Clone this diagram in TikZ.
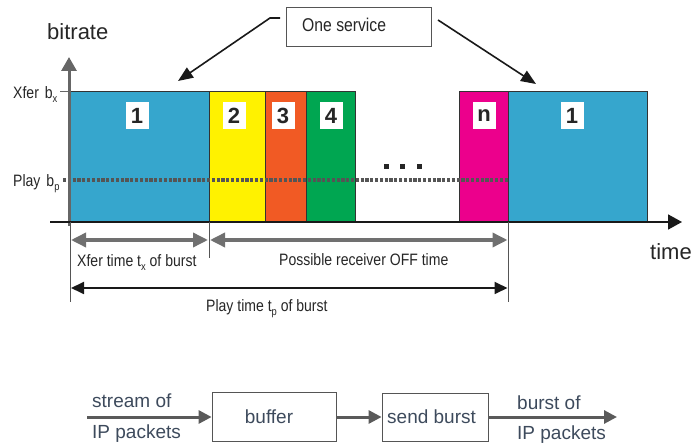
\documentclass[tikz,border=0pt]{standalone}
\usepackage{fontspec}
\setmainfont{Liberation Sans}
\newfontfamily\narrowfont[FakeStretch=0.85]{Liberation Sans}
\usetikzlibrary{arrows.meta}
\definecolor{cblue}{HTML}{36A6CD}
\definecolor{cyellow}{HTML}{FFF200}
\definecolor{corange}{HTML}{F15A24}
\definecolor{cgreen}{HTML}{00A651}
\definecolor{cmagenta}{HTML}{EC008C}
\definecolor{axisgray}{HTML}{666666}
\definecolor{dimgray}{HTML}{707070}
\definecolor{dotgray}{HTML}{555555}
\definecolor{flowtext}{HTML}{3D4A5C}
\definecolor{flowline}{HTML}{5A5A5A}
\newcommand{\lowsub}[1]{\raisebox{-0.45ex}{\fontsize{11}{11}\selectfont #1}}
\begin{document}
\begin{tikzpicture}[x=1pt,y=-1pt,
  burst/.style={draw=black!80, line width=0.8pt, minimum height=131pt, anchor=south west, inner sep=0pt, outer sep=0pt},
  numlab/.style={fill=white, minimum width=23pt, minimum height=27pt, inner sep=0pt, font=\fontsize{22}{22}\selectfont\bfseries, text=black!85},
  lbl/.style={anchor=base west, inner sep=0pt, font=\narrowfont\fontsize{16.5}{18}\selectfont, text=black!85},
  big/.style={anchor=base west, inner sep=0pt, font=\fontsize{22}{24}\selectfont, text=black!85},
  flowlbl/.style={anchor=base west, inner sep=0pt, font=\fontsize{19}{21}\selectfont, text=flowtext},
  flowbox/.style={draw=dotgray, line width=0.8pt, inner sep=0pt, font=\fontsize{19}{21}\selectfont, text=flowtext},
  flowarrow/.style={draw=flowline, line width=3pt, -{Triangle[length=13pt,width=13pt]}},
  dimg/.style={draw=dimgray, line width=3.5pt, {Triangle[length=15pt,width=14pt]}-{Triangle[length=15pt,width=14pt]}},
  dimb/.style={draw=black!90, line width=1.8pt, {Triangle[length=13pt,width=12pt]}-{Triangle[length=13pt,width=12pt]}},
  vline/.style={draw=dotgray, line width=0.6pt},
  callout/.style={draw=black!90, line width=1.6pt, -{Triangle[length=15pt,width=12pt]}}
]
\useasboundingbox (0,0) rectangle (693,443);
\clip (0,0) rectangle (693,443);

% bursts
\node[burst, fill=cblue, minimum width=139pt] (b1) at (70,222) {};
\node[burst, fill=cyellow, minimum width=56pt] (b2) at (209,222) {};
\node[burst, fill=corange, minimum width=41pt] (b3) at (265,222) {};
\node[burst, fill=cgreen, minimum width=49pt] (b4) at (306,222) {};
\node[burst, fill=cmagenta, minimum width=49pt] (bn) at (459,222) {};
\node[burst, fill=cblue, minimum width=139pt] (b1b) at (508,222) {};

\node[numlab] (l1) at (137,116) {1};
\node[numlab] (l2) at (234,116) {2};
\node[numlab] (l3) at (283,116) {3};
\node[numlab] (l4) at (331,116) {4};
\node[numlab] (ln) at (484,116) {n};
\node[numlab] (l1b) at (572,116) {1};

% dots
\fill[black!85] (383.5,164) rectangle (388.5,169.5);
\fill[black!85] (399.5,164) rectangle (404.5,169.5);
\fill[black!85] (416.5,164) rectangle (421.5,169.5);

% play level dotted line
\coordinate (p0) at (63,180);
\coordinate (p1) at (509,180);
\draw[dotgray, line width=3.2pt, dash pattern=on 3.2pt off 1.6pt] (p0) -- (p1);

% xfer tick
\coordinate (xt) at (60,91);
\draw[axisgray, line width=0.8pt] (xt) -- (b1.north west);

% axes
\coordinate (ya) at (69,226);
\coordinate (yb) at (69,57);
\draw[axisgray, line width=3pt, -{Triangle[length=14pt,width=15pt]}] (ya) -- (yb);
\coordinate (xa) at (50,222);
\coordinate (xb) at (682,222);
\draw[black!90, line width=1.8pt, -{Triangle[length=14pt,width=15pt]}] (xa) -- (xb);

% axis labels
\node[big] (bitrate) at (47,40) {bitrate};
\node[big] (time) at (650,260) {time};
\node[lbl] (xfer) at (13,99) {Xfer\hspace{6pt}b\lowsub{x}};
\node[lbl] (play) at (13,187) {Play\hspace{6pt}b\lowsub{p}};

% one service callout
\node[draw=dotgray, line width=0.8pt, fill=white, minimum width=145pt, minimum height=39pt, inner sep=0pt] (svc) at (358.5,26.5) {};
\node[lbl, font=\narrowfont\fontsize{18.5}{20}\selectfont] (svct) at (302,32) {One service};
\coordinate (c1s) at (280,18);
\coordinate (c1m) at (270,18);
\coordinate (c1e) at (178,81);
\draw[callout] (c1s) -- (c1m) -- (c1e);
\coordinate (c2s) at (438,20);
\coordinate (c2e) at (536,84);
\draw[callout] (c2s) -- (c2e);

% dimension lines
\coordinate (v1t) at (70,222); \coordinate (v1b) at (70,302);
\coordinate (v2t) at (209,222); \coordinate (v2b) at (209,258);
\coordinate (v3t) at (508,222); \coordinate (v3b) at (508,302);
\draw[vline] (v1t) -- (v1b);
\draw[vline] (v2t) -- (v2b);
\draw[vline] (v3t) -- (v3b);
\coordinate (d1a) at (71,240); \coordinate (d1b) at (208,240);
\coordinate (d2a) at (210,240); \coordinate (d2b) at (507.5,240);
\coordinate (d3a) at (71,288); \coordinate (d3b) at (507.5,288);
\draw[dimg] (d1a) -- (d1b);
\draw[dimg] (d2a) -- (d2b);
\draw[dimb] (d3a) -- (d3b);
\node[lbl] (xt1) at (77,267) {Xfer time t\lowsub{x} of burst};
\node[lbl] (off) at (279,266) {Possible receiver OFF time};
\node[lbl] (pt) at (206,312) {Play time t\lowsub{p} of burst};

% flow
\node[flowbox, minimum width=124pt, minimum height=49pt] (buf) at (274,416.5) {};
\node[flowbox, minimum width=106pt, minimum height=48pt] (snd) at (435,417) {};
\node[anchor=base, inner sep=0pt, font=\fontsize{19}{21}\selectfont, text=flowtext] (buft) at (269,423) {buffer};
\node[anchor=base west, inner sep=0pt, font=\fontsize{19}{21}\selectfont, text=flowtext] (sndt) at (387,423) {send burst};
\coordinate (in) at (87,417);
\coordinate (out) at (617,417);
\draw[flowarrow] (in) -- (in -| buf.west);
\draw[flowarrow] (buf.east |- in) -- (snd.west |- in);
\draw[flowarrow] (snd.east |- in) -- (out);
\node[flowlbl] (s1) at (92,407) {stream of};
\node[flowlbl] (s2) at (92,438) {IP packets};
\node[flowlbl] (o1) at (517,409) {burst of};
\node[flowlbl] (o2) at (517,439) {IP packets};
\end{tikzpicture}
\end{document}
